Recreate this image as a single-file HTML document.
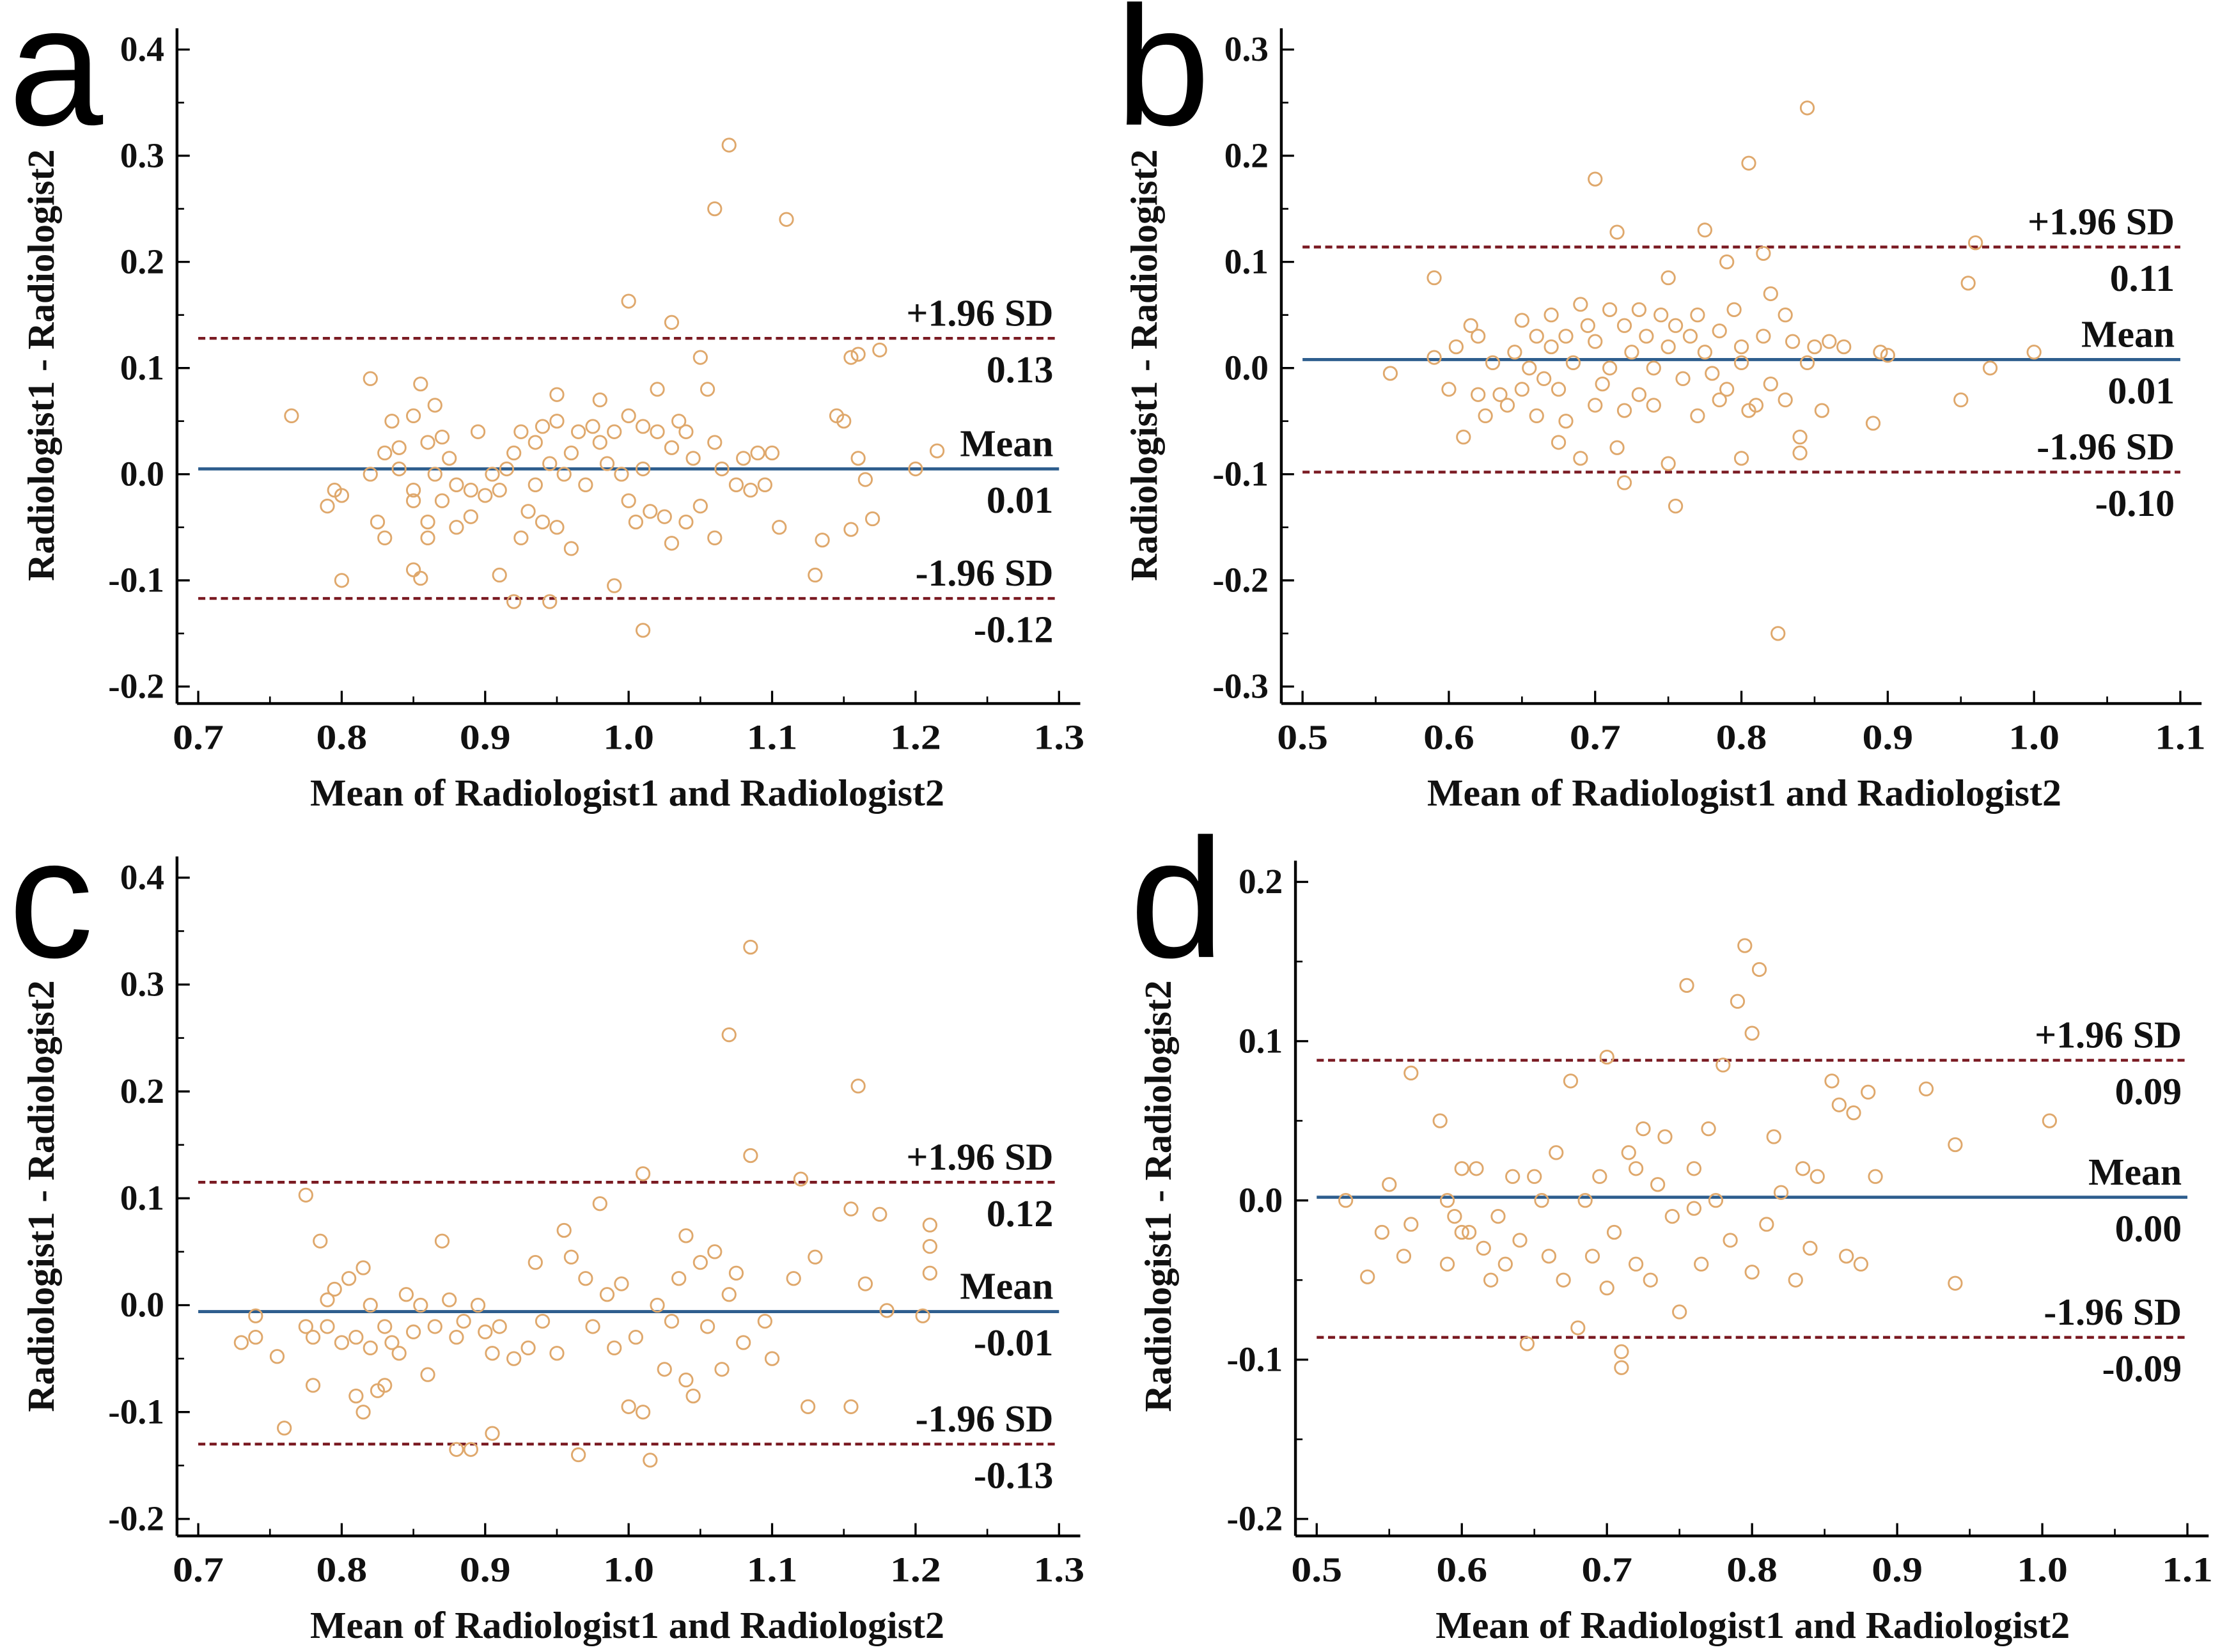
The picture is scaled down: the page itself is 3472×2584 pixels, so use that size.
<!DOCTYPE html>
<html><head><meta charset="utf-8"><style>
html,body{margin:0;padding:0;background:#fff;}
svg{display:block;}
text{font-family:"Liberation Serif",serif;font-weight:bold;fill:#111;}
.let{font-family:"Liberation Sans",sans-serif;font-weight:normal;fill:#000;}
</style></head><body>
<svg id="fig" width="3472" height="2584" viewBox="0 0 1568 1167" xmlns="http://www.w3.org/2000/svg"></svg>
<script>
// Panel a data
const aX=[0.765,0.79,0.795,0.80,0.80,0.82,0.82,0.825,0.83,0.83,0.835,0.84,0.84,0.85,0.85,0.85,0.85,0.855,0.855,0.86,0.86,0.86,0.865,0.865,0.87,0.87,0.875,0.88,0.88,0.89,0.89,0.895,0.90,0.905,0.91,0.91,0.915,0.92,0.92,0.925,0.925,0.93,0.935,0.935,0.94,0.94,0.945,0.945,0.95,0.95,0.95,0.955,0.96,0.96,0.965,0.97,0.975,0.98,0.985,0.99,0.99,0.995,1.0,1.0,1.0,1.005,1.01,1.01,1.01,1.015,1.02,1.02,1.025,1.03,1.03,1.03,1.035,1.04,1.04,1.045,1.05,1.05,1.055,1.06,1.06,1.065,1.07,1.075,1.08,1.085,1.09,1.095,1.1,1.105,1.11,1.13,1.135,1.145,1.15,1.155,1.155,1.16,1.16,1.165,1.17,1.175,1.2,1.215,0.98,1.06];
const aY=[0.055,-0.03,-0.015,-0.02,-0.1,0.09,0.0,-0.045,0.02,-0.06,0.05,0.025,0.005,0.055,-0.015,-0.025,-0.09,0.085,-0.098,0.03,-0.045,-0.06,0.065,0.0,0.035,-0.025,0.015,-0.01,-0.05,-0.04,-0.015,0.04,-0.02,0.0,-0.095,-0.015,0.005,0.02,-0.12,0.04,-0.06,-0.035,0.03,-0.01,0.045,-0.045,0.01,-0.12,0.075,0.05,-0.05,0.0,-0.07,0.02,0.04,-0.01,0.045,0.03,0.01,-0.105,0.04,0.0,0.163,-0.025,0.055,-0.045,0.045,0.005,-0.147,-0.035,0.08,0.04,-0.04,0.143,-0.065,0.025,0.05,-0.045,0.04,0.015,-0.03,0.11,0.08,0.25,-0.06,0.005,0.31,-0.01,0.015,-0.015,0.02,-0.01,0.02,-0.05,0.24,-0.095,-0.062,0.055,0.05,0.11,-0.052,0.113,0.015,-0.005,-0.042,0.117,0.005,0.022,0.07,0.03];
const aLimits=[0.128,0.005,-0.117];
const aLabels=["0.13","0.01","-0.12"];
// Panel b data
const bX=[0.56,0.59,0.59,0.60,0.605,0.61,0.615,0.62,0.62,0.625,0.63,0.635,0.64,0.645,0.65,0.65,0.655,0.66,0.66,0.665,0.67,0.67,0.675,0.675,0.68,0.68,0.685,0.69,0.69,0.695,0.70,0.70,0.70,0.705,0.71,0.71,0.715,0.715,0.72,0.72,0.72,0.725,0.73,0.73,0.735,0.74,0.74,0.745,0.75,0.75,0.75,0.755,0.755,0.76,0.765,0.77,0.77,0.775,0.775,0.78,0.785,0.79,0.79,0.795,0.80,0.80,0.805,0.81,0.815,0.815,0.82,0.82,0.825,0.83,0.83,0.835,0.84,0.84,0.845,0.845,0.85,0.855,0.86,0.87,0.89,0.895,0.90,0.95,0.955,0.96,0.97,1.0,0.80,0.785,0.805];
const bY=[-0.005,0.085,0.01,-0.02,0.02,-0.065,0.04,0.03,-0.025,-0.045,0.005,-0.025,-0.035,0.015,0.045,-0.02,0.0,0.03,-0.045,-0.01,0.05,0.02,-0.02,-0.07,0.03,-0.05,0.005,-0.085,0.06,0.04,0.025,-0.035,0.178,-0.015,0.055,0.0,-0.075,0.128,0.04,-0.04,-0.108,0.015,0.055,-0.025,0.03,-0.035,0.0,0.05,-0.09,0.085,0.02,-0.13,0.04,-0.01,0.03,0.05,-0.045,0.13,0.015,-0.005,0.035,0.1,-0.02,0.055,0.005,-0.085,0.193,-0.035,0.108,0.03,-0.015,0.07,-0.25,0.05,-0.03,0.025,-0.065,-0.08,0.245,0.005,0.02,-0.04,0.025,0.02,-0.052,0.015,0.012,-0.03,0.08,0.118,0.0,0.015,0.02,-0.03,-0.04];
const bLimits=[0.114,0.008,-0.098];
const bLabels=["0.11","0.01","-0.10"];
// Panel c data
const cX=[0.73,0.74,0.74,0.755,0.76,0.775,0.775,0.78,0.78,0.785,0.79,0.79,0.795,0.80,0.805,0.81,0.81,0.815,0.815,0.82,0.82,0.825,0.83,0.83,0.835,0.84,0.845,0.85,0.855,0.86,0.865,0.87,0.875,0.88,0.88,0.885,0.89,0.895,0.90,0.905,0.905,0.91,0.92,0.93,0.935,0.94,0.95,0.955,0.96,0.965,0.97,0.975,0.98,0.985,0.99,0.995,1.0,1.005,1.01,1.01,1.015,1.02,1.025,1.03,1.035,1.04,1.04,1.045,1.05,1.055,1.06,1.065,1.07,1.07,1.075,1.08,1.085,1.085,1.095,1.1,1.115,1.12,1.125,1.13,1.155,1.155,1.16,1.165,1.175,1.18,1.205,1.21,1.21,1.21];
const cY=[-0.035,-0.03,-0.01,-0.048,-0.115,0.103,-0.02,-0.03,-0.075,0.06,0.005,-0.02,0.015,-0.035,0.025,-0.085,-0.03,0.035,-0.1,-0.04,0.0,-0.08,-0.02,-0.075,-0.035,-0.045,0.01,-0.025,0.0,-0.065,-0.02,0.06,0.005,-0.135,-0.03,-0.015,-0.135,0.0,-0.025,-0.12,-0.045,-0.02,-0.05,-0.04,0.04,-0.015,-0.045,0.07,0.045,-0.14,0.025,-0.02,0.095,0.01,-0.04,0.02,-0.095,-0.03,-0.1,0.123,-0.145,0.0,-0.06,-0.015,0.025,-0.07,0.065,-0.085,0.04,-0.02,0.05,-0.06,0.253,0.01,0.03,-0.035,0.335,0.14,-0.015,-0.05,0.025,0.118,-0.095,0.045,0.09,-0.095,0.205,0.02,0.085,-0.005,-0.01,0.075,0.055,0.03];
const cLimits=[0.115,-0.006,-0.13];
const cLabels=["0.12","-0.01","-0.13"];
// Panel d data
const dX=[0.52,0.535,0.545,0.55,0.56,0.565,0.565,0.585,0.59,0.59,0.595,0.60,0.605,0.61,0.615,0.62,0.625,0.63,0.635,0.64,0.645,0.65,0.655,0.66,0.665,0.67,0.675,0.68,0.685,0.69,0.695,0.70,0.70,0.705,0.71,0.71,0.715,0.72,0.725,0.73,0.735,0.74,0.745,0.75,0.755,0.76,0.765,0.77,0.775,0.78,0.785,0.79,0.795,0.80,0.80,0.805,0.81,0.815,0.82,0.83,0.835,0.84,0.845,0.855,0.86,0.865,0.87,0.875,0.88,0.885,0.92,0.94,0.94,1.005,0.60,0.72,0.76];
const dY=[0.0,-0.048,-0.02,0.01,-0.035,0.08,-0.015,0.05,-0.04,0.0,-0.01,0.02,-0.02,0.02,-0.03,-0.05,-0.01,-0.04,0.015,-0.025,-0.09,0.015,0.0,-0.035,0.03,-0.05,0.075,-0.08,0.0,-0.035,0.015,0.09,-0.055,-0.02,-0.095,-0.105,0.03,-0.04,0.045,-0.05,0.01,0.04,-0.01,-0.07,0.135,0.02,-0.04,0.045,0.0,0.085,-0.025,0.125,0.16,0.105,-0.045,0.145,-0.015,0.04,0.005,-0.05,0.02,-0.03,0.015,0.075,0.06,-0.035,0.055,-0.04,0.068,0.015,0.07,0.035,-0.052,0.05,-0.02,0.02,-0.005];
const dLimits=[0.088,0.002,-0.086];
const dLabels=["0.09","0.00","-0.09"];
const xTicksA=["0.7","0.8","0.9","1.0","1.1","1.2","1.3"];
const xTicksB=["0.5","0.6","0.7","0.8","0.9","1.0","1.1"];
const yTicksA=["0.4","0.3","0.2","0.1","0.0","-0.1","-0.2"];
const yTicksB=["0.3","0.2","0.1","0.0","-0.1","-0.2","-0.3"];
const yTicksD=["0.2","0.1","0.0","-0.1","-0.2"];

const NS="http://www.w3.org/2000/svg";
const svg=document.getElementById('fig');
function mk(tag,attrs,parent,txt){const e=document.createElementNS(NS,tag);for(const k in attrs)e.setAttribute(k,attrs[k]);if(txt!==undefined)e.textContent=txt;parent.appendChild(e);return e;}

function panel(cfg){
  const g=mk('g',{},svg);
  
  
  const xv=cfg.xTicks.map(Number), yv=cfg.yTicks.map(Number);
  const xmin=xv[0],xmax=xv[xv.length-1],ymax=yv[0],ymin=yv[yv.length-1];
  const sx=v=>cfg.px0+(v-xmin)/(xmax-xmin)*(cfg.px1-cfg.px0);
  const sy=v=>cfg.py0+(ymax-v)/(ymax-ymin)*(cfg.py1-cfg.py0);
  const ya=mk('line',{x1:cfg.ax,y1:cfg.py0-15,x2:cfg.ax,y2:cfg.ay,stroke:'#000','stroke-width':2},g);
  
  
  const xa=mk('line',{x1:cfg.ax,y1:cfg.ay,x2:cfg.px1+15,y2:cfg.ay,stroke:'#000','stroke-width':2},g);
  
  
  cfg.xTicks.forEach((t,i)=>{
    const x=sx(+t);
    mk('line',{x1:x,y1:cfg.ay,x2:x,y2:cfg.ay-9,stroke:'#000','stroke-width':1.5},g);
    if(i<cfg.xTicks.length-1){const xm=sx(+t+(xv[1]-xv[0])/2);mk('line',{x1:xm,y1:cfg.ay,x2:xm,y2:cfg.ay-5,stroke:'#000','stroke-width':1.2},g);}
    const tl=mk('text',{x:x,y:cfg.ay+32,'text-anchor':'middle','font-size':25,'textLength':36,'lengthAdjust':'spacingAndGlyphs'},g,t);
    
    
  });
  cfg.yTicks.forEach((t,i)=>{
    const y=sy(+t);
    mk('line',{x1:cfg.ax,y1:y,x2:cfg.ax+9,y2:y,stroke:'#000','stroke-width':1.5},g);
    if(i<cfg.yTicks.length-1){const ym=sy(+t-(yv[0]-yv[1])/2);mk('line',{x1:cfg.ax,y1:ym,x2:cfg.ax+5,y2:ym,stroke:'#000','stroke-width':1.2},g);}
    const tl=mk('text',{x:cfg.ax-9,y:y+8,'text-anchor':'end','font-size':25},g,t);
    
    
  });
  const names=['upper-limit-line','mean-line','lower-limit-line'];
  const tops=['+1.96 SD','Mean','-1.96 SD'];
  cfg.limits.forEach((v,i)=>{
    const y=sy(v);
    const ln=mk('line',{x1:sx(xmin),y1:y,x2:sx(xmax),y2:y,stroke:i===1?'#2e5e8e':'#7a1a22','stroke-width':i===1?2.2:2,'stroke-dasharray':i===1?'none':'5,3'},g);
    
    
    const t1=mk('text',{x:cfg.px1-4,y:y-9,'text-anchor':'end','font-size':27},g,tops[i]);
    
    
    const t2=mk('text',{x:cfg.px1-4,y:y+31,'text-anchor':'end','font-size':27},g,cfg.labels[i]);
    
    
  });
  cfg.X.forEach((xvv,i)=>{
    const c=mk('circle',{cx:sx(xvv),cy:sy(cfg.Y[i]),r:4.6,fill:'none',stroke:'#dfa86c','stroke-width':1.3},g);
    
    
  });
  const xt=mk('text',{x:cfg.xtx,y:cfg.ay+72,'text-anchor':'middle','font-size':27,'textLength':448,'lengthAdjust':'spacingAndGlyphs'},g,'Mean of Radiologist1 and Radiologist2');
  
  
  const yt=mk('text',{x:0,y:0,'text-anchor':'middle','font-size':27,'textLength':305,'lengthAdjust':'spacingAndGlyphs',transform:'translate('+cfg.ytx+','+cfg.yty+') rotate(-90)'},g,'Radiologist1 - Radiologist2');
  
  
  const lt=mk('text',{x:cfg.lx,y:cfg.ly,'font-size':120,'class':'let'},g,cfg.id);
  
  
}
panel({id:'a',X:aX,Y:aY,limits:aLimits,labels:aLabels,xTicks:xTicksA,yTicks:yTicksA,px0:140,px1:748,py0:35,py1:485,ax:125,ay:497,xtx:443,ytx:38,yty:258,lx:6,ly:88});
panel({id:'b',X:bX,Y:bY,limits:bLimits,labels:bLabels,xTicks:xTicksB,yTicks:yTicksB,px0:920,px1:1540,py0:35,py1:485,ax:905,ay:497,xtx:1232,ytx:817,yty:258,lx:788,ly:88});
panel({id:'c',X:cX,Y:cY,limits:cLimits,labels:cLabels,xTicks:xTicksA,yTicks:yTicksA,px0:140,px1:748,py0:620,py1:1073,ax:125,ay:1085,xtx:443,ytx:38,yty:845,lx:6,ly:676});
panel({id:'d',X:dX,Y:dY,limits:dLimits,labels:dLabels,xTicks:xTicksB,yTicks:yTicksD,px0:930,px1:1545,py0:623,py1:1073,ax:915,ay:1085,xtx:1238,ytx:827,yty:845,lx:798,ly:676});
</script>
</body></html>
